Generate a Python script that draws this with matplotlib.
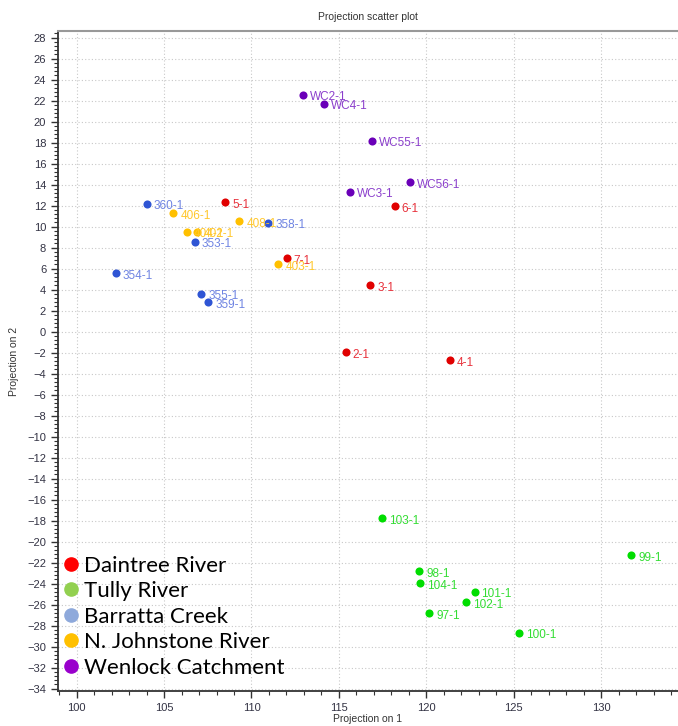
import matplotlib.pyplot as plt
from matplotlib.lines import Line2D
from matplotlib.ticker import MultipleLocator

# groups: (name, point labels, x, y)
daintree_labels = ["6-1", "5-1", "7-1", "3-1", "2-1", "4-1"]
daintree_x = [118.20, 108.49, 112.02, 116.79, 115.40, 121.37]
daintree_y = [11.92, 12.34, 6.97, 4.41, -1.95, -2.72]

tully_labels = ["103-1", "99-1", "98-1", "104-1", "101-1", "102-1", "97-1", "100-1"]
tully_x = [117.46, 131.73, 119.61, 119.65, 122.76, 122.28, 120.18, 125.33]
tully_y = [-17.74, -21.31, -22.79, -23.94, -24.77, -25.79, -26.85, -28.67]

barratta_labels = ["360-1", "358-1", "353-1", "354-1", "355-1", "359-1"]
barratta_x = [104.00, 110.97, 106.77, 102.23, 107.12, 107.53]
barratta_y = [12.18, 10.38, 8.56, 5.53, 3.61, 2.78]

johnstone_labels = ["406-1", "408-1", "404-1", "402-1", "403-1"]
johnstone_x = [105.53, 109.31, 106.30, 106.87, 111.54]
johnstone_y = [11.28, 10.48, 9.52, 9.52, 6.42]

wenlock_labels = ["WC2-1", "WC4-1", "WC55-1", "WC56-1", "WC3-1"]
wenlock_x = [112.94, 114.16, 116.92, 119.08, 115.64]
wenlock_y = [22.56, 21.70, 18.19, 14.22, 13.33]

legend_names = ["Daintree River", "Tully River", "Barratta Creek",
                "N. Johnstone River", "Wenlock Catchment"]
legend_colors = ["#FF0000", "#92D050", "#8EA9DB", "#FFC000", "#9900CC"]

groups = [
    (daintree_labels, daintree_x, daintree_y, "#E00000", "#E8323C"),
    (tully_labels, tully_x, tully_y, "#00DD00", "#33DD33"),
    (barratta_labels, barratta_x, barratta_y, "#2F55D4", "#6F84E2"),
    (johnstone_labels, johnstone_x, johnstone_y, "#FFC000", "#FFC72C"),
    (wenlock_labels, wenlock_x, wenlock_y, "#6A00B8", "#8B3FCC"),
]

plt.rcParams['font.family'] = ['Liberation Sans', 'DejaVu Sans']

fig = plt.figure(figsize=(6.78, 7.26), dpi=100)
ax = fig.add_axes([0.0855, 0.048, 0.9145, 0.909])

for labels, xs, ys, dot_col, txt_col in groups:
    ax.scatter(xs, ys, s=34, color=dot_col, zorder=3, linewidths=0)
    for lab, x, y in zip(labels, xs, ys):
        ax.annotate(lab, (x, y), xytext=(5, -2), textcoords='offset points',
                    fontsize=8.5, color=txt_col, va='center', ha='left', zorder=4)

ax.set_xlim(98.93, 134.4)
ax.set_ylim(-34.25, 28.6)

ax.xaxis.set_major_locator(MultipleLocator(5))
ax.xaxis.set_minor_locator(MultipleLocator(1))
ax.yaxis.set_major_locator(MultipleLocator(2))
ax.yaxis.set_minor_locator(MultipleLocator(0.4))

ax.grid(True, which='major', color='#C8C8C8', linestyle=(0, (1, 2)), linewidth=0.8)
ax.set_axisbelow(True)

ax.tick_params(which='major', length=5, width=1, color='#333333',
               labelsize=8, labelcolor='#333344', direction='out')
ax.tick_params(which='minor', length=3, width=0.8, color='#333333', direction='out')

for s in ['left', 'bottom']:
    ax.spines[s].set_color('#333333')
    ax.spines[s].set_linewidth(1.3)
ax.spines['top'].set_color('#999999')
ax.spines['top'].set_linewidth(1.5)
ax.spines['right'].set_visible(False)

ax.set_title("Projection scatter plot", fontsize=7.5, color='#333333', pad=8)
ax.set_xlabel("Projection on 1", fontsize=7.5, color='#333333', labelpad=1)
ax.set_ylabel("Projection on 2", fontsize=7.5, color='#333333', labelpad=6)

handles = [Line2D([], [], linestyle='none', marker='o', markersize=9.5,
                  markerfacecolor=c, markeredgecolor=c) for c in legend_colors]
leg = ax.legend(handles, legend_names, loc='lower left', bbox_to_anchor=(-0.012, 0.0),
                frameon=False, handlelength=0.6, handletextpad=0.3,
                labelspacing=0.25, borderaxespad=0.2,
                prop={'family': 'Lato', 'size': 16})

fig.savefig("out.png", dpi=100)
